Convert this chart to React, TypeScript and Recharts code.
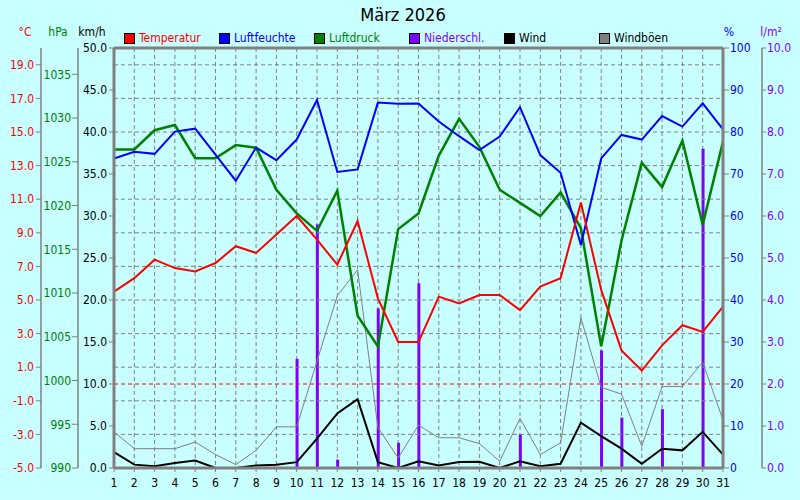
import React from 'react';
import {
  ComposedChart, Line, Bar, XAxis, YAxis, CartesianGrid, ReferenceLine, Legend,
} from 'recharts';

const DAYS = [1, 2, 3, 4, 5, 6, 7, 8, 9, 10, 11, 12, 13, 14, 15, 16, 17, 18, 19, 20, 21, 22, 23, 24, 25, 26, 27, 28, 29, 30, 31];
const TEMPERATUR = [5.5, 6.3, 7.4, 6.9, 6.7, 7.2, 8.2, 7.8, 8.9, 10.0, 8.6, 7.1, 9.7, 5.1, 2.5, 2.5, 5.2, 4.8, 5.3, 5.3, 4.4, 5.8, 6.3, 10.8, 5.6, 2.0, 0.8, 2.3, 3.5, 3.1, 4.6];
const LUFTFEUCHTE = [73.7, 75.3, 74.8, 80.1, 80.8, 74.6, 68.4, 76.3, 73.3, 78.2, 87.6, 70.5, 71.1, 87.0, 86.7, 86.8, 82.5, 79.0, 75.7, 78.9, 85.9, 74.5, 70.3, 53.1, 73.7, 79.3, 78.2, 83.8, 81.3, 86.8, 80.6];
const LUFTDRUCK = [1026.4, 1026.4, 1028.6, 1029.2, 1025.4, 1025.4, 1026.9, 1026.6, 1021.8, 1019.1, 1017.1, 1021.7, 1007.4, 1003.9, 1017.3, 1019.1, 1025.7, 1029.9, 1026.7, 1021.8, 1020.3, 1018.8, 1021.5, 1017.4, 1003.9, 1016.0, 1024.9, 1022.1, 1027.4, 1017.8, 1027.3];
const NIEDERSCHLAG = [0, 0, 0, 0, 0, 0, 0, 0, 0, 2.6, 5.8, 0.2, 0, 3.8, 0.6, 4.4, 0, 0, 0, 0, 0.8, 0, 0, 0, 2.8, 1.2, 0, 1.4, 0, 7.6, 0];
const WIND = [1.9, 0.4, 0.2, 0.6, 0.9, 0, 0, 0.3, 0.4, 0.7, 3.5, 6.5, 8.2, 0.7, 0, 0.8, 0.3, 0.7, 0.75, 0, 0.8, 0.2, 0.5, 5.4, 3.8, 2.3, 0.5, 2.3, 2.1, 4.3, 1.6];
const WINDBOEEN = [4.3, 2.3, 2.3, 2.3, 3.1, 1.6, 0.4, 2.1, 4.9, 4.9, 12.7, 20.5, 23.6, 4.8, 1.2, 5.1, 3.6, 3.6, 2.9, 0.8, 5.9, 1.6, 3.0, 17.9, 9.6, 8.8, 2.6, 9.7, 9.7, 12.6, 5.7];

const TEMP_TICKS = [-5, -3, -1, 1, 3, 5, 7, 9, 11, 13, 15, 17, 19];
const TEMP_GRID = [-3, -1, 1, 3, 5, 7, 9, 11, 13, 15, 17, 19];
const HPA_TICKS = [990, 995, 1000, 1005, 1010, 1015, 1020, 1025, 1030, 1035];
const KMH_TICKS = [0, 5, 10, 15, 20, 25, 30, 35, 40, 45, 50];
const HUM_TICKS = [0, 10, 20, 30, 40, 50, 60, 70, 80, 90, 100];
const RAIN_TICKS = [0, 1, 2, 3, 4, 5, 6, 7, 8, 9, 10];

const LEGEND_ITEMS = [
  { name: 'Temperatur', color: '#FF0000', text: '#FF0000' },
  { name: 'Luftfeuchte', color: '#0000FF', text: '#0000FF' },
  { name: 'Luftdruck', color: '#008000', text: '#008000' },
  { name: 'Niederschl.', color: '#8000FF', text: '#8000FF' },
  { name: 'Wind', color: '#000000', text: '#000000' },
  { name: 'Windböen', color: '#808080', text: '#000000' },
];

const FONT = "'Liberation Sans Narrow', 'Arial Narrow', 'DejaVu Sans Condensed', Arial, sans-serif";
const BG = '#C8FFFF';
const GRAY = '#808080';

// axis ids chosen so the left axes stack kmh -> hpa -> temp outward, right axes hum -> rain
const KMH = 'a_kmh';
const HPA = 'b_hpa';
const TEMP = 'c_temp';
const HUM = 'a_hum';
const RAIN = 'b_rain';

const data = DAYS.map((d, i) => ({
  day: d,
  temp: TEMPERATUR[i],
  hum: LUFTFEUCHTE[i],
  hpa: LUFTDRUCK[i],
  rain: NIEDERSCHLAG[i],
  wind: WIND[i],
  gust: WINDBOEEN[i],
}));

const axisLabel = (text: string, color: string, dx: number) => (props: any) => {
  const vb = props.viewBox || { x: 0, y: 48 };
  return (
    <text x={vb.x + dx} y={vb.y - 12} fill={color} fontSize={12} fontFamily={FONT} textAnchor="middle">
      {text}
    </text>
  );
};

const renderLegend = () => (
  <div style={{ position: 'relative', width: 800, height: 16, fontFamily: FONT, fontSize: 12, lineHeight: '16px' }}>
    {LEGEND_ITEMS.map((it, i) => (
      <div key={it.name} style={{ position: 'absolute', left: 124 + 95 * i, top: 0, height: 16, whiteSpace: 'nowrap' }}>
        <span style={{ position: 'absolute', left: 0, top: 3, width: 9, height: 9, background: it.color, border: '1px solid #000' }} />
        <span style={{ position: 'absolute', left: 15, top: 0, color: it.text }}>{it.name}</span>
      </div>
    ))}
  </div>
);

export default function App() {
  return (
    <div style={{ position: 'absolute', left: 0, top: 0, width: 800, height: 500, background: BG, fontFamily: FONT }}>
      <div style={{ position: 'absolute', left: 0, top: 5, width: 806, textAlign: 'center', fontSize: 18, lineHeight: '20px', color: '#000' }}>
        März 2026
      </div>
      <ComposedChart width={800} height={500} data={data} margin={{ top: 32, right: 0, bottom: 0, left: 0 }}>
        <Legend verticalAlign="top" content={renderLegend} wrapperStyle={{ left: 0, top: 30, width: 800, height: 16 }} />
        <XAxis
          dataKey="day" type="number" domain={[1, 31]} ticks={DAYS} interval={0} height={32}
          axisLine={{ stroke: GRAY, strokeWidth: 3 }} tickLine={{ stroke: GRAY }} tickSize={4} tickMargin={6}
          tick={{ fill: '#000', fontSize: 12, fontFamily: FONT }}
        />
        <YAxis
          yAxisId={KMH} orientation="left" width={36} domain={[0, 50]} ticks={KMH_TICKS} interval={0}
          tickFormatter={(v: number) => v.toFixed(1)} axisLine={{ stroke: GRAY, strokeWidth: 3 }} tickLine={{ stroke: GRAY }}
          tickSize={5} tickMargin={2} tick={{ fill: '#000', fontSize: 12, fontFamily: FONT }}
          label={axisLabel('km/h', '#000', 14)}
        />
        <YAxis
          yAxisId={HPA} orientation="left" width={37} domain={[990, 1038]} ticks={HPA_TICKS} interval={0}
          axisLine={{ stroke: GRAY, strokeWidth: 1.5 }} tickLine={{ stroke: GRAY }}
          tickSize={6} tickMargin={1} tick={{ fill: '#008000', fontSize: 12, fontFamily: FONT }}
          label={axisLabel('hPa', '#008000', 17)}
        />
        <YAxis
          yAxisId={TEMP} orientation="left" width={41} domain={[-5, 20]} ticks={TEMP_TICKS} interval={0}
          tickFormatter={(v: number) => v.toFixed(1)} axisLine={{ stroke: GRAY, strokeWidth: 1.5 }} tickLine={{ stroke: GRAY }}
          tickSize={5} tickMargin={2} tick={{ fill: '#FF0000', fontSize: 12, fontFamily: FONT }}
          label={axisLabel('°C', '#FF0000', 25)}
        />
        <YAxis
          yAxisId={HUM} orientation="right" width={39} domain={[0, 100]} ticks={HUM_TICKS} interval={0}
          axisLine={{ stroke: GRAY, strokeWidth: 3 }} tickLine={{ stroke: GRAY }}
          tickSize={6} tickMargin={1} tick={{ fill: '#0000FF', fontSize: 12, fontFamily: FONT }}
          label={axisLabel('%', '#0000FF', 6)}
        />
        <YAxis
          yAxisId={RAIN} orientation="right" width={38} domain={[0, 10]} ticks={RAIN_TICKS} interval={0}
          tickFormatter={(v: number) => v.toFixed(1)} axisLine={{ stroke: GRAY, strokeWidth: 1.5 }} tickLine={{ stroke: GRAY }}
          tickSize={4} tickMargin={1} tick={{ fill: '#8000FF', fontSize: 12, fontFamily: FONT }}
          label={axisLabel('l/m²', '#8000FF', 9)}
        />
        <CartesianGrid horizontal={false} stroke={GRAY} strokeDasharray="4 3" strokeWidth={1} />
        {TEMP_GRID.map((t) => (
          <ReferenceLine key={t} yAxisId={TEMP} y={t} stroke={GRAY} strokeDasharray="4 3" strokeWidth={1} />
        ))}
        <ReferenceLine yAxisId={TEMP} y={0} stroke="#FF0000" strokeDasharray="4 3" strokeWidth={1} />
        <ReferenceLine yAxisId={KMH} y={50} stroke={GRAY} strokeWidth={3} />
        <Bar dataKey="rain" name="Niederschl." yAxisId={RAIN} barSize={3} fill="#8000FF" isAnimationActive={false} />
        <Line dataKey="gust" name="Windböen" yAxisId={KMH} type="linear" stroke={GRAY} strokeWidth={1} dot={false} activeDot={false} isAnimationActive={false} />
        <Line dataKey="wind" name="Wind" yAxisId={KMH} type="linear" stroke="#000000" strokeWidth={2} dot={false} activeDot={false} isAnimationActive={false} />
        <Line dataKey="hpa" name="Luftdruck" yAxisId={HPA} type="linear" stroke="#008000" strokeWidth={2.5} dot={false} activeDot={false} isAnimationActive={false} />
        <Line dataKey="hum" name="Luftfeuchte" yAxisId={HUM} type="linear" stroke="#0000FF" strokeWidth={2} dot={false} activeDot={false} isAnimationActive={false} />
        <Line dataKey="temp" name="Temperatur" yAxisId={TEMP} type="linear" stroke="#FF0000" strokeWidth={2} dot={false} activeDot={false} isAnimationActive={false} />
      </ComposedChart>
    </div>
  );
}
